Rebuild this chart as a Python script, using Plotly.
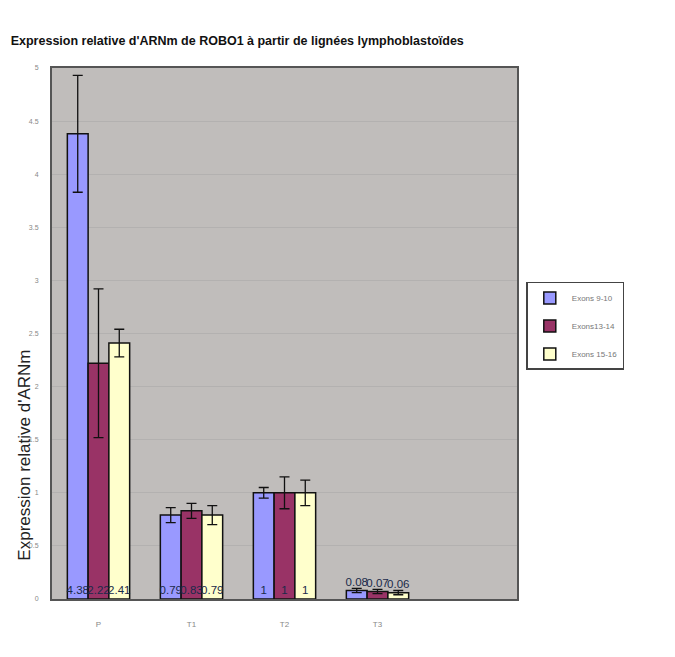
import plotly.graph_objects as go

# Données
categories = ["P", "T1", "T2", "T3", " "]
series_names = ["Exons 9-10", "Exons13-14", "Exons 15-16"]
exons_9_10 = [4.38, 0.79, 1.0, 0.08, None]
exons_13_14 = [2.22, 0.83, 1.0, 0.07, None]
exons_15_16 = [2.41, 0.79, 1.0, 0.06, None]
err_9_10 = [0.55, 0.07, 0.05, 0.02, None]
err_13_14 = [0.70, 0.07, 0.15, 0.02, None]
err_15_16 = [0.13, 0.09, 0.12, 0.02, None]
labels_9_10 = ["4.38", "0.79", "1", "0.08", ""]
labels_13_14 = ["2.22", "0.83", "1", "0.07", ""]
labels_15_16 = ["2.41", "0.79", "1", "0.06", ""]
y_ticks = [0, 0.5, 1, 1.5, 2, 2.5, 3, 3.5, 4, 4.5, 5]

colors = ["#9999ff", "#993366", "#ffffcc"]

fig = go.Figure()

for name, vals, errs, labels, color in zip(
    series_names,
    [exons_9_10, exons_13_14, exons_15_16],
    [err_9_10, err_13_14, err_15_16],
    [labels_9_10, labels_13_14, labels_15_16],
    colors,
):
    fig.add_trace(
        go.Bar(
            x=categories,
            y=vals,
            name=name,
            legendgroup=name,
            text=labels,
            textposition="auto",
            insidetextanchor="start",
            textangle=0,
            constraintext="none",
            cliponaxis=False,
            textfont=dict(size=11.5, color="#1a2a4a", family="Liberation Sans"),
            marker=dict(color=color, line=dict(color="#111111", width=1.5)),
            error_y=dict(type="data", array=errs, visible=True,
                         color="#111111", thickness=1.3, width=5),
        )
    )

fig.update_layout(
    width=675,
    height=657,
    paper_bgcolor="white",
    plot_bgcolor="#c0bdbb",
    barmode="group",
    bargap=0.33,
    bargroupgap=0,
    margin=dict(l=44, r=166, t=60, b=66, autoexpand=False),
    font=dict(family="Liberation Sans", color="#555555"),
    title=dict(
        text="<b>Expression relative d'ARNm de ROBO1 à partir de lignées lymphoblastoïdes</b>",
        x=0.004, xanchor="left", y=0.951, yanchor="middle",
        font=dict(size=12.5, color="#111111"), automargin=False,
    ),
    xaxis=dict(
        showline=True, linecolor="#555555", linewidth=2, mirror=True,
        tickfont=dict(size=8, color="#888888"),
        ticks="", ticklabelstandoff=16, automargin=False,
    ),
    yaxis=dict(
        range=[0, 5],
        tickvals=y_ticks,
        ticktext=[str(t) for t in y_ticks],
        showline=True, linecolor="#555555", linewidth=2, mirror=True,
        showgrid=True, gridcolor="#b3b1b0", gridwidth=1,
        tickfont=dict(size=7, color="#888888"),
        ticks="", zeroline=False, automargin=False, ticklabelstandoff=10,
    ),
    legend=dict(
        x=1.02, xanchor="left", y=0.597, yanchor="top",
        bgcolor="white", bordercolor="#444444", borderwidth=1.5,
        font=dict(size=8, color="#777777"),
        tracegroupgap=9, itemwidth=34,
    ),
    annotations=[
        dict(
            text="Expression relative d'ARNm",
            textangle=-90, xref="paper", yref="paper",
            x=-0.058, y=0.27, xanchor="center", yanchor="middle",
            showarrow=False, font=dict(size=17, color="#222222"),
        )
    ],
)

fig.write_html("out.html")
